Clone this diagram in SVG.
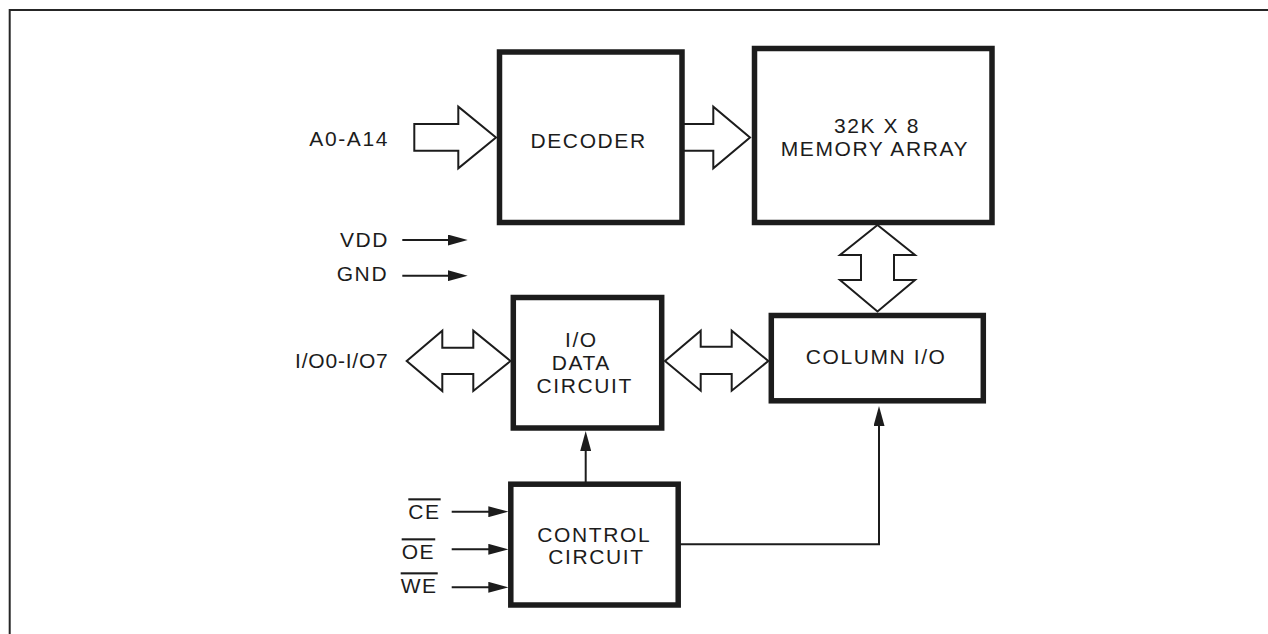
<svg xmlns="http://www.w3.org/2000/svg" width="1268" height="634" viewBox="0 0 1268 634">
<style>
  .box { fill: #fff; stroke: #1c1c1c; stroke-width: 5.5; }
  .bus { fill: #fff; stroke: #1c1c1c; stroke-width: 2; stroke-linejoin: miter; }
  .wire { fill: none; stroke: #1c1c1c; stroke-width: 2; }
  .t { font-family: "Liberation Sans", Arial, Helvetica, sans-serif; font-size: 21px; fill: #1c1c1c; letter-spacing: 1.6px; }
  .ov { text-decoration: overline; }
</style>
<defs>
  <marker id="ah" markerUnits="userSpaceOnUse" viewBox="0 0 20 11" refX="10" refY="5.5" markerWidth="20" markerHeight="11" orient="auto">
    <path d="M0,0 L20,5.5 L0,11 Z" fill="#1c1c1c"/>
  </marker>
</defs>
<rect width="1268" height="634" fill="#fff"/>
<path d="M9.7,634 V10 H1268" fill="none" stroke="#262626" stroke-width="2"/>

<g id="connectors">
  <polygon class="bus" points="414.3,124 458.3,124 458.3,106.7 496,137.5 458.3,168.3 458.3,150.7 414.3,150.7"/>
  <polygon class="bus" points="682,124 713.3,124 713.3,106.7 750,137.5 713.3,168.3 713.3,150.7 682,150.7"/>
  <polygon class="bus" points="877.5,225 915,255 894,255 894,280 915,280 877.5,311.5 840,280 861,280 861,255 840,255"/>
  <polygon class="bus" points="406.7,361 442.3,330.7 442.3,347.7 473.3,347.7 473.3,330.7 510.5,361 473.3,391 473.3,374 442.3,374 442.3,391"/>
  <polygon class="bus" points="665,361 700.7,330.7 700.7,346.7 731.7,346.7 731.7,330.7 768.3,361 731.7,390.7 731.7,374 700.7,374 700.7,390.7"/>
  <line class="wire" x1="402.3" y1="240" x2="457.7" y2="240" marker-end="url(#ah)"/>
  <line class="wire" x1="402.3" y1="275.7" x2="457.7" y2="275.7" marker-end="url(#ah)"/>
  <line class="wire" x1="451.7" y1="511.7" x2="498.3" y2="511.7" marker-end="url(#ah)"/>
  <line class="wire" x1="451.7" y1="549.3" x2="498.3" y2="549.3" marker-end="url(#ah)"/>
  <line class="wire" x1="451.7" y1="587.3" x2="498.3" y2="587.3" marker-end="url(#ah)"/>
  <line class="wire" x1="585.7" y1="484" x2="585.7" y2="441" marker-end="url(#ah)"/>
  <polyline class="wire" points="678,544.3 879,544.3 879,416" marker-end="url(#ah)"/>
</g>

<g id="decoder">
  <rect class="box" x="499.5" y="52" width="182.5" height="170.5"/>
  <text class="t" x="530.5" y="147.7">DECODER</text>
</g>
<g id="memory-array">
  <rect class="box" x="754.5" y="48.5" width="237.5" height="174"/>
  <text class="t" x="834" y="133.3">32K X 8</text>
  <text class="t" x="780.7" y="156">MEMORY ARRAY</text>
</g>
<g id="column-io">
  <rect class="box" x="771.3" y="315.5" width="212" height="85.3"/>
  <text class="t" x="805.7" y="364">COLUMN I/O</text>
</g>
<g id="io-data-circuit">
  <rect class="box" x="513.3" y="297.5" width="148.4" height="130.5"/>
  <text class="t" x="565" y="347.3">I/O</text>
  <text class="t" x="551.7" y="370">DATA</text>
  <text class="t" x="536.5" y="393.3">CIRCUIT</text>
</g>
<g id="control-circuit">
  <rect class="box" x="510.8" y="484.2" width="167.4" height="120.8"/>
  <text class="t" x="537.3" y="541.7">CONTROL</text>
  <text class="t" x="548.3" y="564.3">CIRCUIT</text>
</g>

<g id="labels">
  <text class="t" x="309.3" y="145.7">A0-A14</text>
  <text class="t" x="340" y="247.3">VDD</text>
  <text class="t" x="336.7" y="281">GND</text>
  <text class="t" x="295" y="367.7" style="letter-spacing:0.8px">I/O0-I/O7</text>
  <text class="t ov" x="408.3" y="519.3">CE</text>
  <text class="t ov" x="401.7" y="559.3">OE</text>
  <text class="t ov" x="400.7" y="593.3">WE</text>
</g>
</svg>
